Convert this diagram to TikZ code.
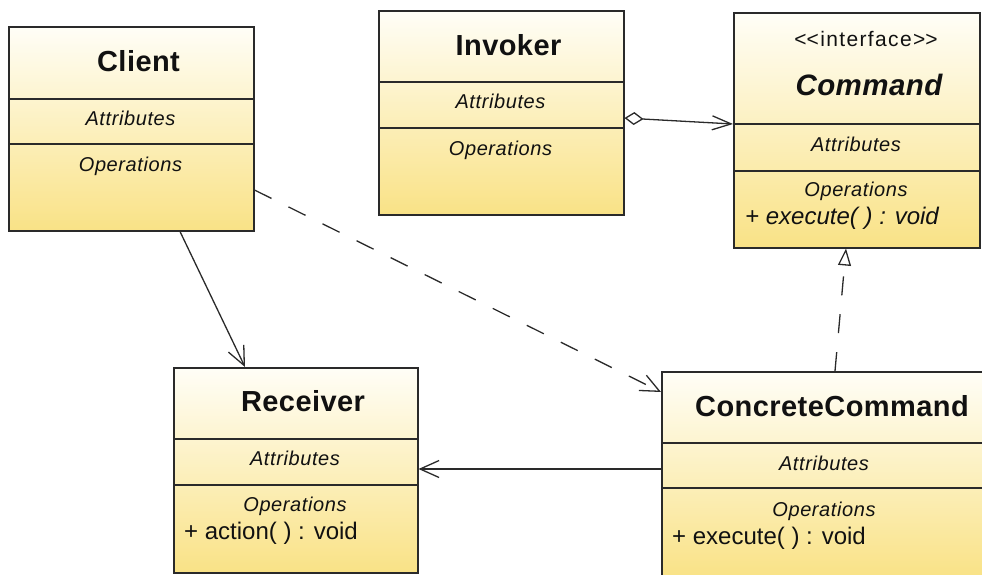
\documentclass[tikz,border=0pt]{standalone}
\usepackage{fontspec}
\setmainfont{Liberation Sans}
\newfontfamily\titlefont[LetterSpace=1.5]{Liberation Sans}
\newfontfamily\labelfont[LetterSpace=3]{Liberation Sans}
\newfontfamily\stereofont[LetterSpace=6.5]{Liberation Sans}
\usetikzlibrary{arrows.meta,calc}

\definecolor{boxtop}{HTML}{FFFEF7}
\definecolor{boxbot}{HTML}{F9E286}
\definecolor{edge}{HTML}{2A2A2A}
\definecolor{ink}{HTML}{111111}

\tikzset{
  classbox/.style={rectangle, draw=edge, line width=1.5pt, inner sep=0pt,
    anchor=north west, top color=boxtop, bottom color=boxbot},
  divider/.style={draw=edge, line width=1.5pt},
  classname/.style={anchor=base, inner sep=0pt, text=ink,
    font=\titlefont\fontsize{29}{31}\selectfont\bfseries},
  ifacename/.style={anchor=base, inner sep=0pt, text=ink,
    font=\titlefont\fontsize{29.5}{31}\selectfont\bfseries\itshape},
  stereo/.style={anchor=base, inner sep=0pt, text=ink,
    font=\stereofont\fontsize{21}{23}\selectfont},
  section/.style={anchor=base, inner sep=0pt, text=ink,
    font=\labelfont\fontsize{20}{22}\selectfont\itshape},
  member/.style={anchor=base west, inner sep=0pt, text=ink,
    font=\fontsize{24}{26}\selectfont},
  absmember/.style={member, font=\fontsize{24}{26}\selectfont\itshape},
  link/.style={draw=edge, line width=1.3pt},
  dep/.style={link, dash pattern=on 19pt off 19pt},
  openhead/.style={-{Straight Barb[length=19pt, width=17pt, line width=1.3pt]}},
  realize/.style={-{Triangle[open, length=17pt, width=13pt, line width=1.3pt]}},
  aggr/.style={{Diamond[open, length=19pt, width=13pt, line width=1.3pt]}-{Straight Barb[length=19pt, width=14pt, line width=1.3pt]}}
}

\begin{document}
\begin{tikzpicture}[x=1pt, y=-1pt]
\useasboundingbox (0,0) rectangle (982,574);
\clip (0,0) rectangle (982,574);

% ---- Client ----
\node[classbox, minimum width=245pt, minimum height=204pt] (client) at (8,26) {};
\draw[divider] ($(client.north west)+(0,73)$) -- ($(client.north east)+(0,73)$);
\draw[divider] ($(client.north west)+(0,118)$) -- ($(client.north east)+(0,118)$);
\node[classname] (clientT) at (138.5,71.5) {Client};
\node[section] (clientA) at (130.5,125.5) {Attributes};
\node[section] (clientO) at (130.5,171.5) {Operations};

% ---- Invoker ----
\node[classbox, minimum width=245pt, minimum height=204pt] (invoker) at (378,10) {};
\draw[divider] ($(invoker.north west)+(0,72)$) -- ($(invoker.north east)+(0,72)$);
\draw[divider] ($(invoker.north west)+(0,118)$) -- ($(invoker.north east)+(0,118)$);
\node[classname] (invokerT) at (508.5,55.5) {Invoker};
\node[section] (invokerA) at (500.5,108.5) {Attributes};
\node[section] (invokerO) at (500.5,155) {Operations};

% ---- Command (interface) ----
\node[classbox, minimum width=246pt, minimum height=235pt] (command) at (733,12) {};
\draw[divider] ($(command.north west)+(0,112)$) -- ($(command.north east)+(0,112)$);
\draw[divider] ($(command.north west)+(0,159)$) -- ($(command.north east)+(0,159)$);
\node[stereo] (commandS) at (866,46.5) {<\kern0pt<interface>\kern0pt>};
\node[ifacename] (commandT) at (869,95) {Command};
\node[section] (commandA) at (856,151.5) {Attributes};
\node[section] (commandO) at (856,196.5) {Operations};
\node[absmember] (commandE) at (745,224) {+ execute( ) : void};

% ---- Receiver ----
\node[classbox, minimum width=244pt, minimum height=205pt] (receiver) at (173,367) {};
\draw[divider] ($(receiver.north west)+(0,72)$) -- ($(receiver.north east)+(0,72)$);
\draw[divider] ($(receiver.north west)+(0,118)$) -- ($(receiver.north east)+(0,118)$);
\node[classname] (receiverT) at (303,411.5) {Receiver};
\node[section] (receiverA) at (295,465.5) {Attributes};
\node[section] (receiverO) at (295,511.5) {Operations};
\node[member] (receiverM) at (184,539.5) {+ action( ) : void};

% ---- ConcreteCommand ----
\node[classbox, minimum width=324pt, minimum height=206pt] (concrete) at (661,371) {};
\draw[divider] ($(concrete.north west)+(0,72)$) -- ($(concrete.north east)+(0,72)$);
\draw[divider] ($(concrete.north west)+(0,117)$) -- ($(concrete.north east)+(0,117)$);
\node[classname] (concreteT) at (832,416) {ConcreteCommand};
\node[section] (concreteA) at (824,470) {Attributes};
\node[section] (concreteO) at (824,516) {Operations};
\node[member] (concreteM) at (672,544) {+ execute( ) : void};

% ---- Relations ----
% Client uses Receiver
\draw[link, openhead] ($(client.south west)+(172,0)$) -- ($(receiver.north west)+(72,0)$);
% Client depends on ConcreteCommand
\draw[dep, openhead] ($(client.north east)+(0,164)$) -- ($(concrete.north west)+(0,21)$);
% Invoker aggregates Command
\draw[link, aggr] ($(invoker.north east)+(0,108)$) -- ($(command.north west)+(0,112)$);
% ConcreteCommand realizes Command
\draw[dep, realize] ($(concrete.north west)+(174,0)$) -- ($(command.south west)+(113,0)$);
% ConcreteCommand calls Receiver
\draw[link, openhead] ($(concrete.north west)+(0,98)$) -- ($(receiver.north east)+(0,102)$);
\end{tikzpicture}
\end{document}
